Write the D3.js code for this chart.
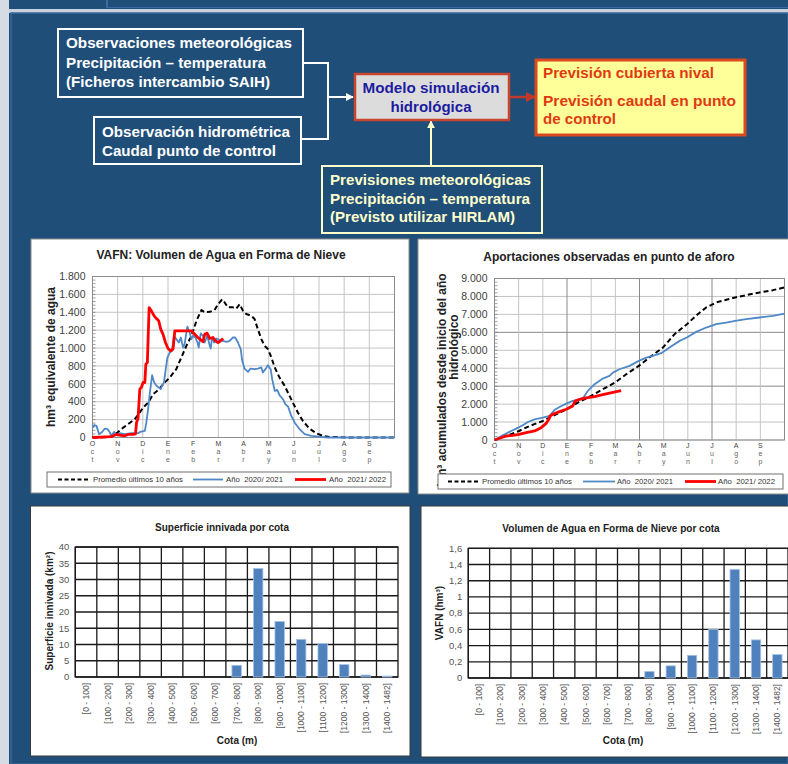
<!DOCTYPE html>
<html>
<head>
<meta charset="utf-8">
<script src="https://cdn.jsdelivr.net/npm/d3@7"></script>
<style>
  body { margin: 0; background: #1f4e79; }
  svg { display: block; }
</style>
</head>
<body>
<svg id="slide" width="788" height="764"></svg>
<script>
// ---- data ----
var months = ["Oct", "Nov", "Dic", "Ene", "Feb", "Mar", "Abr", "May", "Jun", "Jul", "Ago", "Sep"];

// VAFN (hm3), [month from 1 Oct, value]
var vafnPromedio = [[0,0],[0.49,3],[0.75,10],[0.99,55],[1.22,110],[1.42,150],[1.68,205],[1.88,280],[2.01,335],[2.21,390],
  [2.41,485],[2.61,530],[2.87,615],[3.07,670],[3.33,765],[3.53,895],[3.73,1025],[3.93,1135],[4.13,1305],[4.33,1425],
  [4.46,1400],[4.66,1405],[4.85,1425],[4.99,1490],[5.15,1545],[5.25,1510],[5.38,1455],[5.58,1455],[5.71,1440],[5.85,1490],
  [5.98,1415],[6.11,1380],[6.31,1360],[6.44,1325],[6.57,1210],[6.71,1100],[6.84,1025],[6.97,990],[7.08,915],[7.24,785],
  [7.43,670],[7.63,580],[7.83,465],[7.96,390],[8.16,280],[8.36,185],[8.62,100],[8.89,48],[9.15,19],[9.42,7],[9.88,4],
  [10.15,0],[12,0]];
var vafn2021 = [[0,110],[0.07,140],[0.16,130],[0.26,37],[0.36,55],[0.49,100],[0.6,93],[0.69,55],[0.75,19],[0.86,63],
  [0.95,26],[1.08,48],[1.28,37],[1.55,48],[1.81,48],[1.9,63],[2.08,75],[2.14,168],[2.21,317],[2.28,503],[2.37,697],
  [2.45,615],[2.54,578],[2.63,560],[2.71,540],[2.76,578],[2.84,615],[2.91,765],[2.98,895],[3.07,950],[3.16,970],
  [3.24,1135],[3.33,1100],[3.43,1062],[3.51,1118],[3.6,1006],[3.66,1044],[3.77,1240],[3.86,1174],[3.93,1100],[3.99,1137],
  [4.09,1118],[4.17,1062],[4.22,1006],[4.3,1163],[4.39,1137],[4.46,1062],[4.56,1137],[4.66,1025],[4.7,995],[4.75,1118],
  [4.83,1062],[4.92,1107],[5.05,1092],[5.19,1081],[5.32,1070],[5.45,1081],[5.58,1118],[5.67,1118],[5.78,1062],[5.89,988],
  [5.95,857],[6.04,771],[6.18,734],[6.28,771],[6.44,764],[6.57,771],[6.71,783],[6.77,727],[6.87,764],[6.97,809],
  [7.08,764],[7.14,652],[7.24,522],[7.34,533],[7.43,473],[7.57,428],[7.66,373],[7.77,347],[7.9,242],[8.03,168],
  [8.23,93],[8.43,37],[8.69,19],[9.09,7],[9.35,0],[12,0]];
var vafn2122 = [[0,0],[0.75,10],[0.82,19],[0.95,34],[1.08,26],[1.28,19],[1.42,34],[1.61,34],[1.71,41],[1.75,168],
  [1.81,212],[1.88,540],[1.94,560],[2.01,615],[2.08,615],[2.12,820],[2.18,839],[2.25,1453],[2.34,1416],[2.45,1360],
  [2.54,1330],[2.63,1305],[2.71,1211],[2.8,1155],[2.9,1062],[3.0,995],[3.11,969],[3.2,988],[3.27,1193],[3.53,1193],
  [3.77,1193],[3.93,1193],[4.06,1155],[4.19,1118],[4.3,1092],[4.39,1070],[4.46,1155],[4.55,1167],[4.66,1107],[4.79,1118],
  [4.88,1081],[4.99,1062],[5.09,1081],[5.19,1107]];

// Aportaciones acumuladas (hm3)
var aporPromedio = [[0,0],[0.48,223],[1.01,502],[1.45,781],[2.0,1060],[2.41,1339],[2.97,1711],[3.52,2139],[4.0,2455],
  [4.48,2827],[4.99,3199],[5.45,3664],[5.97,4129],[6.41,4594],[6.97,5152],[7.45,5896],[7.96,6454],[8.41,7012],
  [8.76,7384],[9.17,7663],[9.59,7812],[9.96,7942],[10.41,8072],[10.97,8221],[11.52,8351],[12,8500]];
var apor2021 = [[0,0],[0.34,260],[0.69,502],[0.9,632],[1.17,818],[1.38,1004],[1.66,1153],[2.0,1246],[2.28,1339],
  [2.39,1525],[2.48,1674],[2.69,1841],[2.97,2027],[3.24,2176],[3.52,2269],[3.68,2362],[3.86,2734],[4.14,3106],
  [4.48,3422],[4.76,3571],[4.9,3757],[5.17,3943],[5.59,4129],[5.97,4408],[6.28,4594],[6.55,4687],[6.9,4836],
  [7.24,5152],[7.66,5524],[7.96,5710],[8.34,6026],[8.76,6268],[9.17,6454],[9.59,6547],[9.96,6640],[10.41,6733],
  [10.97,6826],[11.52,6919],[12,7049]];
var apor2122 = [[0,0],[0.48,223],[0.76,260],[1.01,316],[1.31,409],[1.66,502],[1.93,688],[2.14,930],[2.25,1153],
  [2.3,1339],[2.41,1432],[2.69,1581],[2.97,1711],[3.24,1897],[3.34,2176],[3.52,2269],[3.79,2350],[4.14,2420],
  [4.48,2530],[4.9,2650],[5.24,2750]];

var cotas = ["[0 - 100]", "[100 - 200]", "[200 - 300]", "[300 - 400]", "[400 - 500]", "[500 - 600]", "[600 - 700]",
  "[700 - 800]", "[800 - 900]", "[900 - 1000]", "[1000 - 1100]", "[1100 - 1200]", "[1200 - 1300]", "[1300 - 1400]",
  "[1400 - 1482]"];
var superficie = [0, 0, 0, 0, 0, 0, 0, 3.6, 33.4, 17.1, 11.6, 10.3, 3.8, 0.6, 0.3];
var vafnCota = [0, 0, 0, 0, 0, 0, 0, 0, 0.08, 0.15, 0.28, 0.6, 1.34, 0.47, 0.29];

var seriesNames = ["Promedio últimos 10 años", "Año  2020/ 2021", "Año  2021/ 2022"];

// ---- setup ----
var es = d3.formatLocale({decimal: ",", thousands: ".", grouping: [3], currency: ["", " €"]});
var svg = d3.select("#slide");
var sansFont = "'Liberation Sans', Arial, sans-serif";

// background
svg.append("rect").attr("width", 788).attr("height", 764).attr("fill", "#1f4e79");
svg.append("rect").attr("x", 0).attr("y", 0).attr("width", 9).attr("height", 764).attr("fill", "#d6dce4");
svg.append("rect").attr("x", 9).attr("y", 9).attr("width", 779).attr("height", 4).attr("fill", "#c9d2dc");
svg.append("line").attr("x1", 107).attr("x2", 107).attr("y1", 0).attr("y2", 8).attr("stroke", "#4a74b4").attr("stroke-width", 1.5);
svg.append("line").attr("x1", 107).attr("x2", 788).attr("y1", 7.5).attr("y2", 7.5).attr("stroke", "#3d67a3").attr("stroke-width", 1);
svg.append("rect").attr("x", 11).attr("y", 13).attr("width", 777).attr("height", 751)
   .attr("fill", "#1f4e79").attr("stroke", "#3a6898").attr("stroke-width", 1.5);

// ---- flowchart ----
var defs = svg.append("defs");
function arrowMarker(id, color) {
  defs.append("marker").attr("id", id).attr("viewBox", "0 0 10 10").attr("refX", 9).attr("refY", 5)
      .attr("markerWidth", 4).attr("markerHeight", 4).attr("orient", "auto")
      .append("path").attr("d", "M0,0L10,5L0,10z").attr("fill", color);
}
arrowMarker("arrW", "#ffffff");
arrowMarker("arrR", "#c0392b");
arrowMarker("arrY", "#ffffcc");

var flow = svg.append("g")
    .style("font-family", "'Liberation Sans Narrow', 'Arial Narrow', 'Liberation Sans', Arial, sans-serif")
    .style("font-weight", "bold")
    .style("font-size", "15px")
    .style("white-space", "pre");

function flowText(x, y, str, color, w, anchor) {
  flow.append("text").attr("x", x).attr("y", y).attr("fill", color)
      .attr("text-anchor", anchor || "start")
      .attr("textLength", w).attr("lengthAdjust", "spacingAndGlyphs")
      .text(str);
}

// connectors
flow.append("path").attr("d", "M303,63H328V139H301").attr("fill", "none").attr("stroke", "#ffffff").attr("stroke-width", 2);
flow.append("path").attr("d", "M328,97H353").attr("stroke", "#ffffff").attr("stroke-width", 2).attr("marker-end", "url(#arrW)");
flow.append("path").attr("d", "M509,97H535").attr("stroke", "#c0392b").attr("stroke-width", 2.5).attr("marker-end", "url(#arrR)");
flow.append("path").attr("d", "M431,166V121").attr("stroke", "#ffffcc").attr("stroke-width", 2).attr("marker-end", "url(#arrY)");

flow.append("rect").attr("x", 58).attr("y", 29).attr("width", 245).attr("height", 68)
    .attr("fill", "none").attr("stroke", "#ffffff").attr("stroke-width", 2);
flowText(66, 48, "Observaciones meteorológicas", "#ffffff", 226);
flowText(66, 68, "Precipitación – temperatura", "#ffffff", 200);
flowText(66, 87, "(Ficheros intercambio SAIH)", "#ffffff", 204);

flow.append("rect").attr("x", 94).attr("y", 117).attr("width", 207).attr("height", 47)
    .attr("fill", "none").attr("stroke", "#ffffff").attr("stroke-width", 2);
flowText(102, 137, "Observación hidrométrica", "#ffffff", 188);
flowText(102, 156, "Caudal punto de control", "#ffffff", 174);

flow.append("rect").attr("x", 355).attr("y", 74).attr("width", 154).attr("height", 46)
    .attr("fill", "#dcdcdc").attr("stroke", "#c8462f").attr("stroke-width", 2.5);
flowText(431, 93, "Modelo simulación", "#1c1ca0", 137, "middle");
flowText(431, 112, "hidrológica", "#1c1ca0", 81, "middle");

flow.append("rect").attr("x", 536).attr("y", 60).attr("width", 209).attr("height", 75)
    .attr("fill", "#ffff99").attr("stroke", "#d94a1e").attr("stroke-width", 3);
flowText(543, 78, "Previsión cubierta nival", "#e03a12", 171);
flowText(543, 106, "Previsión caudal  en punto", "#e03a12", 193);
flowText(543, 124, "de control", "#e03a12", 73);

flow.append("rect").attr("x", 322).attr("y", 166).attr("width", 220).attr("height", 67)
    .attr("fill", "none").attr("stroke", "#ffffcc").attr("stroke-width", 2);
flowText(330, 185, "Previsiones meteorológicas", "#ffffcc", 201);
flowText(330, 204, "Precipitación – temperatura", "#ffffcc", 200);
flowText(330, 222, "(Previsto utilizar HIRLAM)", "#ffffcc", 185);

// ---- line charts ----
var lineStyles = [
  {color: "#000000", width: 2, dash: "5,3"},
  {color: "#4f88c6", width: 1.8, dash: null},
  {color: "#ff0000", width: 2.8, dash: null}
];

function drawLineChart(cfg) {
  var g = svg.append("g").style("font-family", sansFont);
  g.append("rect").attr("x", cfg.panel.x).attr("y", cfg.panel.y).attr("width", cfg.panel.w).attr("height", cfg.panel.h)
   .attr("fill", "#ffffff").attr("stroke", "#8c8c8c").attr("stroke-width", 1);

  var x = d3.scaleLinear().domain([0, 12]).range([cfg.plot.l, cfg.plot.r]);
  var y = d3.scaleLinear().domain([0, cfg.yMax]).range([cfg.plot.b, cfg.plot.t]);
  var yTicks = d3.range(0, cfg.yMax + 1, cfg.yStep);

  // grid
  g.append("g").selectAll("line").data(yTicks).enter().append("line")
   .attr("x1", cfg.plot.l).attr("x2", cfg.plot.r)
   .attr("y1", d => y(d)).attr("y2", d => y(d))
   .attr("stroke", d => cfg.majorY && d > 0 && d % cfg.majorY === 0 ? "#8a8a8a" : "#c4c4c4").attr("stroke-width", 1);
  g.append("g").selectAll("line").data(d3.range(1, 12)).enter().append("line")
   .attr("x1", d => x(d)).attr("x2", d => x(d))
   .attr("y1", cfg.plot.t).attr("y2", cfg.plot.b)
   .attr("stroke", d => cfg.majorX && d % 3 === 0 ? "#8a8a8a" : "#c4c4c4").attr("stroke-width", 1);

  // minor ticks on the value axis
  g.append("g").selectAll("line").data(d3.range(0, cfg.yMax, cfg.minor)).enter().append("line")
   .attr("x1", cfg.plot.l).attr("x2", cfg.plot.l + 3)
   .attr("y1", d => y(d)).attr("y2", d => y(d))
   .attr("stroke", "#777").attr("stroke-width", 0.7);

  g.append("rect").attr("x", cfg.plot.l).attr("y", cfg.plot.t)
   .attr("width", cfg.plot.r - cfg.plot.l).attr("height", cfg.plot.b - cfg.plot.t)
   .attr("fill", "none").attr("stroke", "#8c8c8c").attr("stroke-width", 1);

  // y axis labels
  var fmt = es.format(",d");
  g.append("g").selectAll("text").data(yTicks).enter().append("text")
   .attr("x", cfg.plot.l - 7).attr("y", d => y(d)).attr("dy", "0.35em")
   .attr("text-anchor", "end").attr("fill", "#404040").style("font-size", "10.5px")
   .text(d => fmt(d));

  // month letters, written downwards
  var ml = g.append("g").selectAll("text").data(months).enter().append("text")
   .attr("text-anchor", "middle").style("font-size", "7px");
  ml.selectAll("tspan").data((m, i) => m.split("").map(c => ({c: c, i: i}))).enter().append("tspan")
   .attr("x", d => x(d.i))
   .attr("y", (d, k) => cfg.rows[k])
   .attr("fill", (d, k) => k === 0 ? "#444" : "#666")
   .text(d => d.c);

  // series
  var line = d3.line().x(d => x(d[0])).y(d => y(d[1]));
  cfg.series.forEach(function(s, i) {
    var st = lineStyles[i];
    g.append("path").datum(s).attr("d", line).attr("fill", "none")
     .attr("stroke", st.color).attr("stroke-width", st.width)
     .attr("stroke-linejoin", "round")
     .attr("stroke-dasharray", st.dash);
  });

  // title
  g.append("text").attr("x", cfg.title.x).attr("y", cfg.title.y).attr("text-anchor", "middle")
   .attr("fill", "#222").style("font-size", "12px").style("font-weight", "bold").text(cfg.title.text);

  // y label
  cfg.ylabel.forEach(function(l) {
    g.append("text").attr("transform", "translate(" + l.x + "," + l.y + ") rotate(-90)")
     .attr("text-anchor", "middle").attr("dy", "0.35em").attr("fill", "#222")
     .style("font-size", "12px").style("font-weight", "bold").text(l.text);
  });

  // legend
  var lg = cfg.legend;
  g.append("rect").attr("x", lg.x).attr("y", lg.y).attr("width", lg.w).attr("height", lg.h)
   .attr("fill", "#ffffff").attr("stroke", "#707070").attr("stroke-width", 1);
  seriesNames.forEach(function(name, i) {
    var st = lineStyles[i];
    var it = lg.items[i];
    g.append("line").attr("x1", it[0]).attr("x2", it[1]).attr("y1", lg.y + lg.h / 2).attr("y2", lg.y + lg.h / 2)
     .attr("stroke", st.color).attr("stroke-width", st.width).attr("stroke-dasharray", st.dash ? "4,2.5" : null);
    g.append("text").attr("x", it[2]).attr("y", lg.y + lg.h / 2).attr("dy", "0.35em")
     .attr("fill", "#333").style("font-size", "8px").style("white-space", "pre")
     .attr("textLength", it[3]).attr("lengthAdjust", "spacingAndGlyphs")
     .text(name);
  });
}

drawLineChart({
  panel: {x: 31, y: 239, w: 378, h: 254},
  plot: {l: 92.5, r: 394.5, t: 276.5, b: 437.5},
  yMax: 1800, yStep: 200, minor: 40,
  rows: [446, 454, 462],
  series: [vafnPromedio, vafn2021, vafn2122],
  title: {text: "VAFN: Volumen de Agua en Forma de Nieve", x: 221, y: 259},
  ylabel: [{text: "hm³ equivalente de agua", x: 51, y: 357}],
  legend: {x: 47, y: 472, w: 344, h: 15, items: [[58, 90, 93, 90], [193, 223, 226, 57], [295, 326, 329, 57]]}
});

drawLineChart({
  panel: {x: 418, y: 239, w: 372, h: 255},
  plot: {l: 494.5, r: 784.5, t: 278.5, b: 440},
  yMax: 9000, yStep: 1000, minor: 200, majorY: 3000, majorX: true,
  rows: [448, 456, 464],
  series: [aporPromedio, apor2021, apor2122],
  title: {text: "Aportaciones observadas en punto de aforo", x: 609, y: 261},
  ylabel: [{text: "hm³ acumulados desde inicio del año", x: 442, y: 380}, {text: "hidrológico", x: 454, y: 347}],
  legend: {x: 438, y: 474, w: 345, h: 15, items: [[448, 480, 482, 90], [583, 615, 617, 56], [685, 716, 718, 57]]}
});

// ---- bar charts ----
function drawBarChart(cfg) {
  var g = svg.append("g").style("font-family", sansFont);
  g.append("rect").attr("x", cfg.panel.x).attr("y", cfg.panel.y).attr("width", cfg.panel.w).attr("height", cfg.panel.h)
   .attr("fill", "#ffffff").attr("stroke", "#3a3a3a").attr("stroke-width", 1);

  var x = d3.scaleBand().domain(cotas).range([cfg.plot.l, cfg.plot.r]).paddingInner(0.56).paddingOuter(0.28);
  var y = d3.scaleLinear().domain([0, cfg.yMax]).range([cfg.plot.b, cfg.plot.t]);
  var yTicks = d3.range(0, cfg.yMax + cfg.yStep / 2, cfg.yStep);
  var step = x.step();

  g.append("g").selectAll("line").data(yTicks).enter().append("line")
   .attr("x1", cfg.plot.l).attr("x2", cfg.plot.r)
   .attr("y1", d => y(d)).attr("y2", d => y(d))
   .attr("stroke", "#1a1a1a").attr("stroke-width", 1.3);
  g.append("g").selectAll("line").data(cotas).enter().append("line")
   .attr("x1", d => x(d) - step * 0.28).attr("x2", d => x(d) - step * 0.28)
   .attr("y1", cfg.plot.t).attr("y2", cfg.plot.b)
   .attr("stroke", "#1a1a1a").attr("stroke-width", 1.3);
  g.append("rect").attr("x", cfg.plot.l).attr("y", cfg.plot.t)
   .attr("width", cfg.plot.r - cfg.plot.l).attr("height", cfg.plot.b - cfg.plot.t)
   .attr("fill", "none").attr("stroke", "#1a1a1a").attr("stroke-width", 1.3);

  g.append("g").selectAll("rect").data(cfg.values).enter().append("rect")
   .attr("x", (d, i) => x(cotas[i])).attr("width", x.bandwidth())
   .attr("y", d => y(d)).attr("height", d => y(0) - y(d))
   .attr("fill", "#4f81bd").attr("stroke", "#a8c3e6").attr("stroke-width", 0.8);

  g.append("g").selectAll("text").data(yTicks).enter().append("text")
   .attr("x", cfg.plot.l - 6).attr("y", d => y(d)).attr("dy", "0.35em")
   .attr("text-anchor", "end").attr("fill", "#555").style("font-size", "9.5px")
   .text(d => cfg.fmt(d));

  g.append("g").selectAll("text").data(cotas).enter().append("text")
   .attr("transform", d => "translate(" + (x(d) + x.bandwidth() / 2) + "," + (cfg.plot.b + 6) + ") rotate(-90)")
   .attr("text-anchor", "end").attr("dy", "0.35em").attr("fill", "#555").style("font-size", "8.5px")
   .text(d => d);

  g.append("text").attr("x", cfg.title.x).attr("y", cfg.title.y).attr("text-anchor", "middle")
   .attr("fill", "#222").style("font-size", "10px").style("font-weight", "bold").text(cfg.title.text);
  g.append("text").attr("x", cfg.xlabel.x).attr("y", cfg.xlabel.y).attr("text-anchor", "middle")
   .attr("fill", "#222").style("font-size", "10px").style("font-weight", "bold").text("Cota (m)");
  g.append("text").attr("transform", "translate(" + cfg.ylabel.x + "," + cfg.ylabel.y + ") rotate(-90)")
   .attr("text-anchor", "middle").attr("dy", "0.35em").attr("fill", "#222")
   .style("font-size", "10px").style("font-weight", "bold").text(cfg.ylabel.text);
}

drawBarChart({
  panel: {x: 30.5, y: 506, w: 379.5, h: 250},
  plot: {l: 75.3, r: 398, t: 547, b: 677},
  yMax: 40, yStep: 5, fmt: es.format("d"),
  values: superficie,
  title: {text: "Superficie innivada por cota", x: 222, y: 531},
  xlabel: {x: 237, y: 744},
  ylabel: {text: "Superficie innivada (km²)", x: 49, y: 611}
});

drawBarChart({
  panel: {x: 421, y: 506, w: 369, h: 251},
  plot: {l: 468.3, r: 788, t: 548.3, b: 678},
  yMax: 1.6, yStep: 0.2, fmt: es.format(".1~f"),
  values: vafnCota,
  title: {text: "Volumen de Agua en Forma de Nieve por cota", x: 611, y: 532},
  xlabel: {x: 623, y: 744},
  ylabel: {text: "VAFN (hm³)", x: 439, y: 613}
});
</script>
</body>
</html>
